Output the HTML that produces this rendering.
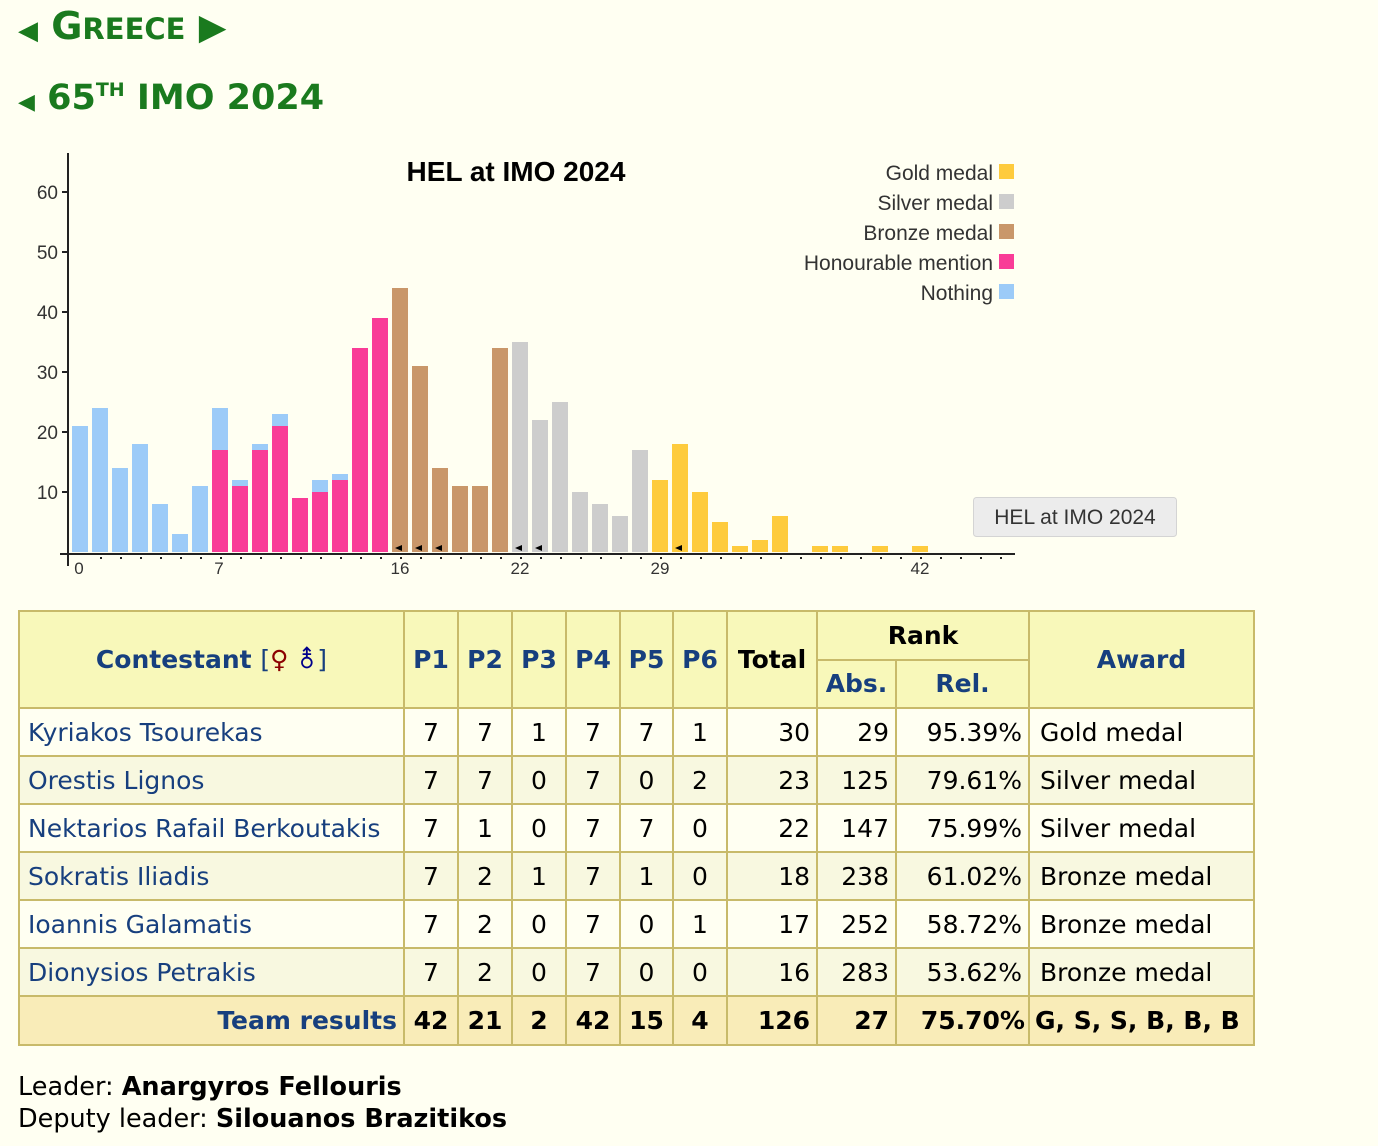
<!DOCTYPE html>
<html><head><meta charset="utf-8"><style>
body{margin:0;background:#fffff2;width:1378px;height:1146px;position:relative;overflow:hidden;font-family:"DejaVu Sans","Liberation Sans",sans-serif;}
.h{position:absolute;color:#1a7a1e;font-weight:bold;}
table{position:absolute;left:18px;top:610px;border-collapse:collapse;table-layout:fixed;font-size:25px;}
td,th{border:2px solid #c8ba6a;padding:0 6px;height:46px;white-space:nowrap;}
th{background:#f8f8ba;color:#173f7e;}
td{text-align:center;color:#000;}
td.n{text-align:left;color:#173f7e;padding-left:8px;}
td.r{text-align:right;}
td.l{text-align:left;padding-left:10px;}
tr.o td{background:#fffff2;} tr.e td{background:#f8f8e0;}
tr.t td{background:#f9ecb8;font-weight:bold;height:47px;}
.foot{position:absolute;left:18px;font-size:25.5px;color:#000;}
</style></head><body>
<div class="h" style="left:18px;top:4px;font-size:38px;"><span style="font-size:26px">◀</span> G<span style="font-size:29px">REECE</span> <span style="font-size:36px">▶</span></div>
<div class="h" style="left:18px;top:78px;font-size:35px;"><span style="font-size:22px">◀</span> 65<sup style="font-size:19px;vertical-align:13px">TH</sup> IMO 2024</div>

<svg style="position:absolute;left:0;top:0" width="1378" height="600" font-family="Liberation Sans, sans-serif">
<g fill="#9ccbf8">
<rect x="72" y="426" width="16" height="126"/><rect x="92" y="408" width="16" height="144"/><rect x="112" y="468" width="16" height="84"/><rect x="132" y="444" width="16" height="108"/><rect x="152" y="504" width="16" height="48"/><rect x="172" y="534" width="16" height="18"/><rect x="192" y="486" width="16" height="66"/>
<rect x="212" y="408" width="16" height="144"/><rect x="232" y="480" width="16" height="72"/><rect x="252" y="444" width="16" height="108"/><rect x="272" y="414" width="16" height="138"/><rect x="312" y="480" width="16" height="72"/><rect x="332" y="474" width="16" height="78"/>
</g>
<g fill="#f93c97">
<rect x="212" y="450" width="16" height="102"/><rect x="232" y="486" width="16" height="66"/><rect x="252" y="450" width="16" height="102"/><rect x="272" y="426" width="16" height="126"/><rect x="292" y="498" width="16" height="54"/><rect x="312" y="492" width="16" height="60"/><rect x="332" y="480" width="16" height="72"/><rect x="352" y="348" width="16" height="204"/><rect x="372" y="318" width="16" height="234"/>
</g>
<g fill="#c9976a">
<rect x="392" y="288" width="16" height="264"/><rect x="412" y="366" width="16" height="186"/><rect x="432" y="468" width="16" height="84"/><rect x="452" y="486" width="16" height="66"/><rect x="472" y="486" width="16" height="66"/><rect x="492" y="348" width="16" height="204"/>
</g>
<g fill="#cdcdcd">
<rect x="512" y="342" width="16" height="210"/><rect x="532" y="420" width="16" height="132"/><rect x="552" y="402" width="16" height="150"/><rect x="572" y="492" width="16" height="60"/><rect x="592" y="504" width="16" height="48"/><rect x="612" y="516" width="16" height="36"/><rect x="632" y="450" width="16" height="102"/>
</g>
<g fill="#fecb3d">
<rect x="652" y="480" width="16" height="72"/><rect x="672" y="444" width="16" height="108"/><rect x="692" y="492" width="16" height="60"/><rect x="712" y="522" width="16" height="30"/><rect x="732" y="546" width="16" height="6"/><rect x="752" y="540" width="16" height="12"/><rect x="772" y="516" width="16" height="36"/><rect x="812" y="546" width="16" height="6"/><rect x="832" y="546" width="16" height="6"/><rect x="872" y="546" width="16" height="6"/><rect x="912" y="546" width="16" height="6"/>
</g>
<g fill="#000"><path d="M395 548l7-3v6zM415 548l7-3v6zM435 548l7-3v6zM515 548l7-3v6zM535 548l7-3v6zM675 548l7-3v6z"/></g>
<line x1="68" y1="153" x2="68" y2="566" stroke="#222" stroke-width="2"/>
<line x1="60" y1="554" x2="1015" y2="554" stroke="#222" stroke-width="2"/>
<g stroke="#222" stroke-width="2">
<line x1="62" y1="192" x2="68" y2="192"/><line x1="62" y1="252" x2="68" y2="252"/><line x1="62" y1="312" x2="68" y2="312"/><line x1="62" y1="372" x2="68" y2="372"/><line x1="62" y1="432" x2="68" y2="432"/><line x1="62" y1="492" x2="68" y2="492"/>
</g>
<g stroke="#222" stroke-width="2" stroke-dasharray="2 18">
<line x1="100" y1="558" x2="1015" y2="558"/>
</g>
<g font-size="19" fill="#333" text-anchor="end">
<text x="58" y="199">60</text><text x="58" y="259">50</text><text x="58" y="319">40</text><text x="58" y="379">30</text><text x="58" y="439">20</text><text x="58" y="499">10</text>
</g>
<g font-size="17" fill="#333" text-anchor="middle">
<text x="79" y="574">0</text><text x="219" y="574">7</text><text x="400" y="574">16</text><text x="520" y="574">22</text><text x="660" y="574">29</text><text x="920" y="574">42</text>
</g>
<text x="516" y="181" font-size="28" font-weight="bold" text-anchor="middle" fill="#000">HEL at IMO 2024</text>
<g font-size="21" fill="#333" text-anchor="end">
<text x="993" y="180">Gold medal</text><text x="993" y="210">Silver medal</text><text x="993" y="240">Bronze medal</text><text x="993" y="270">Honourable mention</text><text x="993" y="300">Nothing</text>
</g>
<rect x="999" y="164" width="15" height="15" fill="#fecb3d"/><rect x="999" y="194" width="15" height="15" fill="#cdcdcd"/><rect x="999" y="224" width="15" height="15" fill="#c9976a"/><rect x="999" y="254" width="15" height="15" fill="#f93c97"/><rect x="999" y="284" width="15" height="15" fill="#9ccbf8"/>
<rect x="973.5" y="497.5" width="203" height="39" rx="3" fill="#ececec" stroke="#d4d4d4"/>
<text x="1075" y="524" font-size="21" fill="#333" text-anchor="middle">HEL at IMO 2024</text>
</svg>

<table>
<colgroup><col style="width:385px"><col style="width:54px"><col style="width:54px"><col style="width:54px"><col style="width:54px"><col style="width:53px"><col style="width:54px"><col style="width:90px"><col style="width:79px"><col style="width:133px"><col style="width:225px"></colgroup>
<tr><th rowspan="2" style="height:95px">Contestant <span style="font-weight:normal">[<span style="color:#8b0000">♀</span> <span style="color:#00008b">⚨</span>]</span></th><th rowspan="2">P1</th><th rowspan="2">P2</th><th rowspan="2">P3</th><th rowspan="2">P4</th><th rowspan="2">P5</th><th rowspan="2">P6</th><th rowspan="2" style="color:#000">Total</th><th colspan="2" style="color:#000;height:46px">Rank</th><th rowspan="2">Award</th></tr>
<tr><th style="height:45px">Abs.</th><th>Rel.</th></tr>
<tr class="o"><td class="n">Kyriakos Tsourekas</td><td>7</td><td>7</td><td>1</td><td>7</td><td>7</td><td>1</td><td class="r">30</td><td class="r">29</td><td class="r">95.39%</td><td class="l">Gold medal</td></tr>
<tr class="e"><td class="n">Orestis Lignos</td><td>7</td><td>7</td><td>0</td><td>7</td><td>0</td><td>2</td><td class="r">23</td><td class="r">125</td><td class="r">79.61%</td><td class="l">Silver medal</td></tr>
<tr class="o"><td class="n">Nektarios Rafail Berkoutakis</td><td>7</td><td>1</td><td>0</td><td>7</td><td>7</td><td>0</td><td class="r">22</td><td class="r">147</td><td class="r">75.99%</td><td class="l">Silver medal</td></tr>
<tr class="e"><td class="n">Sokratis Iliadis</td><td>7</td><td>2</td><td>1</td><td>7</td><td>1</td><td>0</td><td class="r">18</td><td class="r">238</td><td class="r">61.02%</td><td class="l">Bronze medal</td></tr>
<tr class="o"><td class="n">Ioannis Galamatis</td><td>7</td><td>2</td><td>0</td><td>7</td><td>0</td><td>1</td><td class="r">17</td><td class="r">252</td><td class="r">58.72%</td><td class="l">Bronze medal</td></tr>
<tr class="e"><td class="n">Dionysios Petrakis</td><td>7</td><td>2</td><td>0</td><td>7</td><td>0</td><td>0</td><td class="r">16</td><td class="r">283</td><td class="r">53.62%</td><td class="l">Bronze medal</td></tr>
<tr class="t"><td class="r" style="color:#173f7e">Team results</td><td>42</td><td>21</td><td>2</td><td>42</td><td>15</td><td>4</td><td class="r">126</td><td class="r">27</td><td class="r" style="padding:0 3px">75.70%</td><td class="l" style="padding-left:5px">G, S, S, B, B, B</td></tr>
</table>
<div class="foot" style="top:1072px">Leader: <b>Anargyros Fellouris</b></div>
<div class="foot" style="top:1104px">Deputy leader: <b>Silouanos Brazitikos</b></div>
</body></html>
